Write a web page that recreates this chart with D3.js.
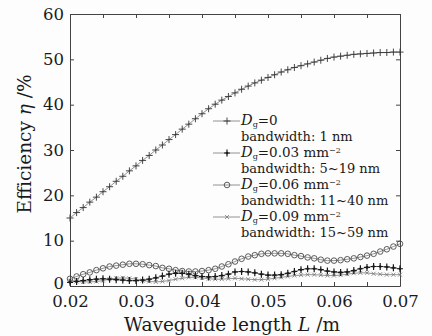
<!DOCTYPE html>
<html lang="en">
<head>
    <meta charset="UTF-8"/>
    <title>Efficiency vs waveguide length</title>
    <script src="https://d3js.org/d3.v7.min.js"></script>
    <style>
        body { margin: 0; background: #fdfdfd; }
        text { font-family: "DejaVu Serif", serif; fill: #1a1a1a; }
    </style>
</head>
<body>
    <div id="chart"></div>

    <script>
        // waveguide length L (m)
        var lengths = [0.020, 0.021, 0.022, 0.023, 0.024, 0.025, 0.026, 0.027, 0.028, 0.029,
                       0.030, 0.031, 0.032, 0.033, 0.034, 0.035, 0.036, 0.037, 0.038, 0.039,
                       0.040, 0.041, 0.042, 0.043, 0.044, 0.045, 0.046, 0.047, 0.048, 0.049,
                       0.050, 0.051, 0.052, 0.053, 0.054, 0.055, 0.056, 0.057, 0.058, 0.059,
                       0.060, 0.061, 0.062, 0.063, 0.064, 0.065, 0.066, 0.067, 0.068, 0.069,
                       0.070];

        // efficiency (%) for each Dg
        var effD0 = [15.0, 16.2, 17.3, 18.5, 19.6, 20.8, 21.9, 23.1, 24.2, 25.4,
                     26.5, 27.7, 28.8, 30.0, 31.1, 32.3, 33.4, 34.6, 35.7, 36.9,
                     38.0, 39.1, 40.1, 41.0, 41.8, 42.6, 43.4, 44.1, 44.8, 45.4,
                     46.0, 46.6, 47.2, 47.7, 48.2, 48.6, 49.0, 49.4, 49.8, 50.2,
                     50.5, 50.7, 50.9, 51.1, 51.2, 51.3, 51.4, 51.5, 51.5, 51.6,
                     51.6];
        var effD003 = [0.8, 1.0, 1.2, 1.4, 1.5, 1.6, 1.5, 1.4, 1.3, 1.2,
                       1.2, 1.3, 1.5, 1.8, 2.2, 2.6, 2.8, 2.8, 2.6, 2.3,
                       2.1, 2.0, 2.1, 2.3, 2.6, 3.1, 3.2, 3.1, 2.9, 2.6,
                       2.4, 2.4, 2.5, 2.8, 3.2, 3.6, 3.8, 3.8, 3.6, 3.3,
                       3.1, 3.0, 3.1, 3.4, 3.8, 4.1, 4.3, 4.3, 4.2, 4.0,
                       3.8];
        var effD006 = [1.6, 2.1, 2.6, 3.0, 3.5, 3.9, 4.3, 4.5, 4.7, 4.9,
                       4.9, 4.8, 4.6, 4.4, 4.0, 3.8, 3.5, 3.3, 3.2, 3.2,
                       3.3, 3.5, 3.8, 4.3, 4.8, 5.4, 6.0, 6.5, 6.8, 7.1,
                       7.2, 7.2, 7.2, 7.1, 6.8, 6.6, 6.3, 6.1, 5.8, 5.6,
                       5.6, 5.7, 5.9, 6.1, 6.4, 6.7, 7.1, 7.6, 8.1, 8.7,
                       9.3];
        var effD009 = [1.2, 1.0, 0.9, 0.9, 1.0, 1.2, 1.5, 1.7, 1.8, 1.7,
                       1.5, 1.2, 1.0, 0.9, 1.0, 1.2, 1.5, 1.7, 1.9, 1.9,
                       1.8, 1.6, 1.5, 1.5, 1.6, 1.7, 1.6, 1.5, 1.4, 1.4,
                       1.5, 1.7, 1.9, 2.1, 2.3, 2.4, 2.5, 2.5, 2.4, 2.3,
                       2.3, 2.4, 2.6, 2.8, 2.9, 2.9, 2.7, 2.6, 2.5, 2.5,
                       2.5];

        var xTicks = [0.02, 0.025, 0.03, 0.035, 0.04, 0.045, 0.05, 0.055, 0.06, 0.065, 0.07];
        var xLabels = [0.02, 0.03, 0.04, 0.05, 0.06, 0.07];
        var yTicks = [0, 10, 20, 30, 40, 50, 60];

        var dgLabels = ["0", "0.03", "0.06", "0.09"];
        var dgUnits = [false, true, true, true];
        var bandwidths = ["1 nm", "5~19 nm", "11~40 nm", "15~59 nm"];
        var markers = ["plus", "plusbold", "circle", "cross"];

        var series = [effD0, effD003, effD006, effD009];

        var w = 432;
        var h = 336;
        var margin = {left: 70, right: 32, top: 14, bottom: 50};

        var xScale = d3.scaleLinear()
                        .domain([0.02, 0.07])
                        .range([margin.left, w - margin.right]);

        var yScale = d3.scaleLinear()
                        .domain([0, 60])
                        .range([h - margin.bottom, margin.top]);

        var svg = d3.select("#chart")
                    .append("svg")
                    .attr("width", w)
                    .attr("height", h);

        // axes on all four sides, ticks pointing in
        var axisColor = "#444";

        var axBottom = svg.append("g")
            .attr("transform", "translate(0," + yScale(0) + ")")
            .call(d3.axisBottom(xScale).tickValues(xTicks).tickSize(-4).tickSizeOuter(0).tickPadding(9)
                .tickFormat(function(d) {
                    return xLabels.some(function(v) { return Math.abs(v - d) < 1e-9; }) ? d.toFixed(2) : "";
                }));
        var axTop = svg.append("g")
            .attr("transform", "translate(0," + yScale(60) + ")")
            .call(d3.axisTop(xScale).tickValues(xTicks).tickSize(-4).tickSizeOuter(0).tickFormat(""));
        var axLeft = svg.append("g")
            .attr("transform", "translate(" + xScale(0.02) + ",0)")
            .call(d3.axisLeft(yScale).tickValues(yTicks).tickSize(-4).tickSizeOuter(0).tickPadding(6));
        var axRight = svg.append("g")
            .attr("transform", "translate(" + xScale(0.07) + ",0)")
            .call(d3.axisRight(yScale).tickValues(yTicks).tickSize(-4).tickSizeOuter(0).tickFormat(""));

        [axBottom, axTop, axLeft, axRight].forEach(function(g) {
            g.selectAll("path, line").attr("stroke", axisColor).attr("stroke-width", 1);
            g.selectAll("text").attr("font-family", "DejaVu Serif").attr("font-size", 16.5).attr("fill", "#1a1a1a");
        });
        // lift the "0" a touch so it clears the 0.02 label
        axLeft.selectAll(".tick text").filter(function(d) { return d === 0; }).attr("dy", "0.15em");

        // axis titles
        var xt = svg.append("text")
            .attr("x", (xScale(0.02) + xScale(0.07)) / 2 - 3)
            .attr("y", 331)
            .attr("text-anchor", "middle")
            .attr("font-size", 18.5);
        xt.append("tspan").text("Waveguide length ");
        xt.append("tspan").attr("font-style", "italic").text("L");
        xt.append("tspan").text(" /m");

        var yt = svg.append("text")
            .attr("transform", "translate(31,144) rotate(-90)")
            .attr("text-anchor", "middle")
            .attr("font-size", 18.5);
        yt.append("tspan").text("Efficiency ");
        yt.append("tspan").attr("font-style", "italic").text("η");
        yt.append("tspan").text(" /%");

        // marker shapes
        function drawMarker(g, type, cx, cy) {
            if (type === "plus") {
                g.append("path").attr("d", "M" + (cx - 3.5) + "," + cy + "h7M" + cx + "," + (cy - 3.5) + "v7")
                    .attr("stroke", "#333").attr("stroke-width", 0.9).attr("fill", "none");
            } else if (type === "plusbold") {
                g.append("path").attr("d", "M" + (cx - 3) + "," + cy + "h6M" + cx + "," + (cy - 3.5) + "v7")
                    .attr("stroke", "#1a1a1a").attr("stroke-width", 1.2).attr("fill", "none");
                g.append("circle").attr("cx", cx).attr("cy", cy).attr("r", 1.3).attr("fill", "#1a1a1a");
            } else if (type === "circle") {
                g.append("circle").attr("cx", cx).attr("cy", cy).attr("r", 2.8)
                    .attr("stroke", "#4a4a4a").attr("stroke-width", 0.9).attr("fill", "none");
            } else {
                g.append("path").attr("d", "M" + (cx - 2) + "," + (cy - 2) + "l4,4M" + (cx - 2) + "," + (cy + 2) + "l4,-4")
                    .attr("stroke", "#777").attr("stroke-width", 0.8).attr("fill", "none");
            }
        }

        var line = d3.line()
            .x(function(d, i) { return xScale(lengths[i]); })
            .y(function(d) { return yScale(d); });

        // draw from back to front so the strong series sits on top
        [3, 2, 1, 0].forEach(function(k) {
            var g = svg.append("g");
            g.append("path")
                .datum(series[k])
                .attr("d", line)
                .attr("fill", "none")
                .attr("stroke", "#777")
                .attr("stroke-width", 0.8);
            series[k].forEach(function(v, i) {
                drawMarker(g, markers[k], xScale(lengths[i]), yScale(v));
            });
        });

        // legend
        var lx = 213;
        var ly = 125;
        var rowGap = 32;
        dgLabels.forEach(function(lab, k) {
            var y0 = ly + k * rowGap;
            var g = svg.append("g");
            g.append("line")
                .attr("x1", lx).attr("x2", lx + 27)
                .attr("y1", y0 - 4).attr("y2", y0 - 4)
                .attr("stroke", "#777").attr("stroke-width", 0.8);
            drawMarker(g, markers[k], lx + 14, y0 - 4);

            var t = g.append("text").attr("x", lx + 28).attr("y", y0).attr("font-size", 13.5);
            t.append("tspan").attr("font-style", "italic").attr("font-size", 14.5).text("D");
            t.append("tspan").attr("font-size", 8).attr("dy", 2).text("g");
            t.append("tspan").attr("dy", -2).text("=" + lab + (dgUnits[k] ? " mm" : ""));
            if (dgUnits[k]) {
                t.append("tspan").attr("font-size", 8).attr("dy", -4.5).text("\u22122");
            }
            g.append("text").attr("x", lx + 28).attr("y", y0 + 16.3).attr("font-size", 13)
                .text("bandwidth: " + bandwidths[k]);
        });
    </script>
</body>
</html>
